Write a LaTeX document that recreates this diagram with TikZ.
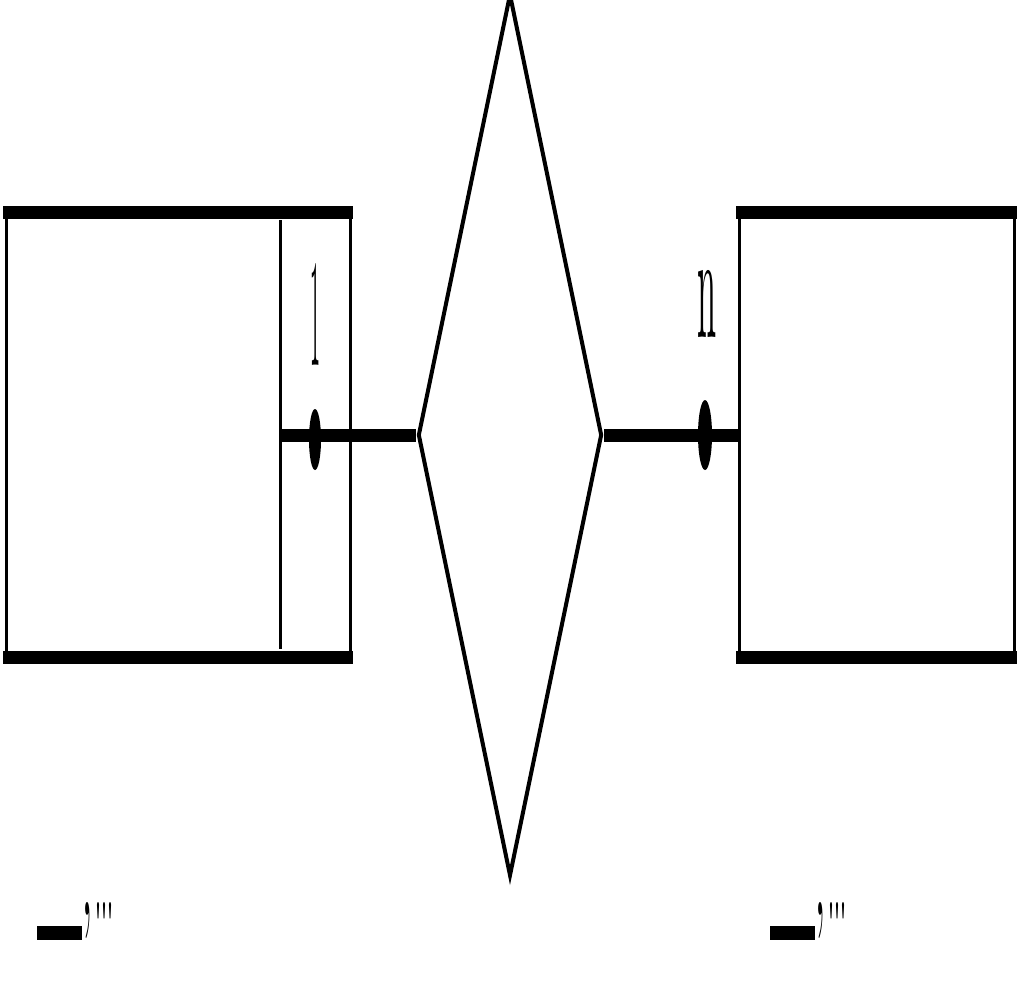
\documentclass[tikz,border=0pt]{standalone}
\usepackage{graphicx}
\usetikzlibrary{shapes.geometric}
\tikzset{
  entbox/.style={draw, line width=3pt, rectangle, inner sep=0pt, minimum width=#1, minimum height=442pt},
  thickedge/.style={line width=13pt},
  relshape/.style={draw, line width=4pt, diamond, inner sep=0pt, minimum width=184pt, minimum height=882pt},
  conn/.style={line width=13pt},
  cardmark/.style={fill, ellipse, inner sep=0pt, draw=none},
  lbl/.style={inner sep=0pt},
  keybar/.style={fill, draw=none, rectangle, inner sep=0pt, minimum width=45pt, minimum height=14pt}
}
\newcommand{\quotemark}{\raisebox{0pt}[84pt][-46pt]{\resizebox{10pt}{84pt}{’}\hspace{3pt}\raisebox{43pt}{\resizebox{18pt}{41pt}{\bfseries\textquotesingle\textquotesingle\textquotesingle}}}}
\begin{document}
\begin{tikzpicture}[x=1pt,y=-1pt]
\useasboundingbox (0,0) rectangle (1020,982);
% entities
\node[entbox=344pt] (e1) at (178,434.5) {};
\node[entbox=275pt] (e2) at (876.5,434.5) {};
\draw[thickedge] ([xshift=-1.5pt]e1.north west) -- ([xshift=1.5pt]e1.north east);
\draw[thickedge] ([xshift=-1.5pt]e1.south west) -- ([xshift=1.5pt]e1.south east);
\draw[thickedge] ([xshift=-1.5pt]e2.north west) -- ([xshift=1.5pt]e2.north east);
\draw[thickedge] ([xshift=-1.5pt]e2.south west) -- ([xshift=1.5pt]e2.south east);
\coordinate (s1t) at (280.5,220);
\coordinate (s1b) at (280.5,649);
\draw[line width=3pt] (s1t) -- (s1b);
% relationship
\node[relshape] (r) at (510,435) {};
% connectors
\coordinate (c1) at (280,435);
\draw[conn] (c1) -- (r.west);
\draw[conn] (r.east) -- (r.east -| e2.west);
% cardinality marks
\node[cardmark, minimum width=12pt, minimum height=61pt] (m1) at (315,439.5) {};
\node[cardmark, minimum width=14pt, minimum height=70pt] (m2) at (705,435) {};
\node[lbl] (l1) at (315,314) {\resizebox{10pt}{102pt}{1}};
\node[lbl] (l2) at (706.5,303.5) {\resizebox{19pt}{67pt}{n}};
% bottom markers
\node[keybar] (k1) at (59.5,933) {};
\node[lbl, anchor=north west] (t1) at (82,902) {\quotemark};
\node[keybar] (k2) at (792.5,933) {};
\node[lbl, anchor=north west] (t2) at (815,902) {\quotemark};
\end{tikzpicture}
\end{document}
